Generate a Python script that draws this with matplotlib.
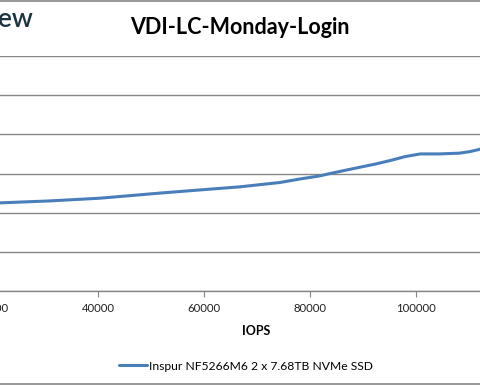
import matplotlib.pyplot as plt
from matplotlib.lines import Line2D

# IOPS vs latency (only part of the chart is visible)
iops = [21500, 30900, 40400, 51700, 59200, 66800, 74300, 78100, 81900, 83800,
        86600, 89400, 92300, 95100, 97900, 100800, 104500, 108300, 110200, 112100]
latency = [2.25, 2.30, 2.37, 2.50, 2.58, 2.66, 2.77, 2.86, 2.94, 3.00,
           3.08, 3.16, 3.24, 3.33, 3.43, 3.50, 3.50, 3.52, 3.56, 3.62]
xticks = [20000, 40000, 60000, 80000, 100000]
yticks = [0, 1, 2, 3, 4, 5, 6]

W, H = 480, 385
fig = plt.figure(figsize=(W / 100, H / 100), dpi=100)
plt.rcParams['font.family'] = ['Lato', 'DejaVu Sans']

# plot area runs past both edges of the picture
left_px, right_px, top_px, bot_px = -30, 510, 56, 291
ax = fig.add_axes([left_px / W, (H - bot_px) / H,
                   (right_px - left_px) / W, (bot_px - top_px) / H])

px_per_iops = 106 / 20000
x0 = 20000 - (-8 - left_px) / px_per_iops
x1 = x0 + (right_px - left_px) / px_per_iops
ax.set_xlim(x0, x1)
ax.set_ylim(0, 6)

ax.plot(iops, latency, color='#4a7ebb', linewidth=2.2,
        solid_capstyle='round', solid_joinstyle='round',
        label='Inspur NF5266M6 2 x 7.68TB NVMe SSD')

ax.set_xticks(xticks)
ax.set_xticklabels([str(v) for v in xticks], fontsize=8.2, color='#222222')
ax.set_yticks(yticks)
ax.set_yticklabels([])
ax.tick_params(axis='x', direction='out', length=4, color='#868686', pad=5)
ax.tick_params(axis='y', length=0)
ax.grid(axis='y', color='#868686', linewidth=1.0)
for s in ['left', 'right', 'top']:
    ax.spines[s].set_visible(False)
ax.spines['bottom'].set_color('#868686')
ax.spines['bottom'].set_linewidth(1.0)
ax.set_axisbelow(True)

fig.text(256 / W, 1 - 335 / H, 'IOPS', ha='center', va='baseline',
         fontsize=9, fontweight='bold', color='black')

fig.text(240 / W, 1 - 34 / H, 'VDI-LC-Monday-Login', ha='center', va='baseline',
         fontsize=15.5, fontweight='bold', color='black')
fig.text(33 / W, 1 - 27 / H, 'StorageReview', ha='right', va='baseline',
         fontsize=19, fontweight='semibold', color='#1b3440')

leg = fig.legend(loc='center', bbox_to_anchor=(246 / W, 1 - 366 / H),
                 frameon=False, fontsize=8.7, handlelength=2.3,
                 handletextpad=0.2)

# outer chart border (top and bottom visible)
fig.add_artist(Line2D([0, 1], [1 - 0.5 / H, 1 - 0.5 / H], color='#868686', linewidth=1.2))
fig.add_artist(Line2D([0, 1], [1 - 384 / H, 1 - 384 / H], color='#868686', linewidth=1.2))

fig.savefig('out.png', dpi=100)
